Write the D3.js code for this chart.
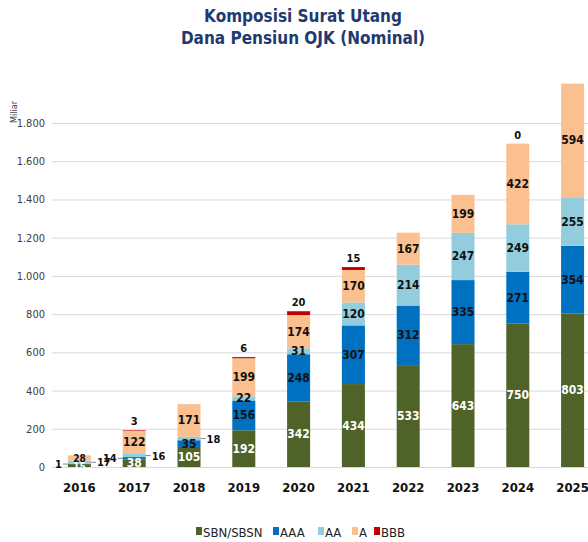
<!DOCTYPE html>
<html>
<head>
<meta charset="utf-8">
<script src="https://cdn.jsdelivr.net/npm/d3@7"></script>
<style>
  body { margin: 0; background: #fff; }
  svg { font-family: "DejaVu Sans Condensed", "DejaVu Sans", sans-serif; }
</style>
</head>
<body>
<div id="chart"></div>
<script>
// data (Miliar)
let years = ['2016', '2017', '2018', '2019', '2020', '2021', '2022', '2023', '2024', '2025'];
let seriesNames = ['SBN/SBSN', 'AAA', 'AA', 'A', 'BBB'];
let sbn = [15, 38, 105, 192, 342, 434, 533, 643, 750, 803];
let aaa = [1, 14, 35, 156, 248, 307, 312, 335, 271, 354];
let aa = [17, 16, 18, 22, 31, 120, 214, 247, 249, 255];
let a = [28, 122, 171, 199, 174, 170, 167, 199, 422, 594];
let bbb = [0, 3, 0, 6, 20, 15, 0, 0, 0, 0];
let yTicks = [0, 200, 400, 600, 800, 1000, 1200, 1400, 1600, 1800];
// which labels are shown, and how
let bbbShown = ['2017', '2019', '2020', '2021', '2024'];
let leaders = [
  { year: '2016', key: 'AAA', side: 'left' },
  { year: '2016', key: 'AA', side: 'right' },
  { year: '2017', key: 'AAA', side: 'left' },
  { year: '2017', key: 'AA', side: 'right' },
  { year: '2018', key: 'AA', side: 'right' }
];

let colors = {
  'SBN/SBSN': '#4f6228',
  'AAA': '#0070c0',
  'AA': '#93cddd',
  'A': '#fac090',
  'BBB': '#c00000'
};

let width = 588;
let height = 542;

let rows = years.map((y, i) => ({
  year: y,
  'SBN/SBSN': sbn[i], 'AAA': aaa[i], 'AA': aa[i], 'A': a[i], 'BBB': bbb[i]
}));

let svg = d3.select('#chart')
  .append('svg')
  .attr('width', width)
  .attr('height', height);

let x = d3.scaleBand()
  .domain(years)
  .range([52, 600])
  .paddingInner(0.58)
  .paddingOuter(0.29);

let y = d3.scaleLinear()
  .domain([0, 1800])
  .range([467, 123]);

// title
svg.append('text')
  .attr('x', 303).attr('y', 22)
  .attr('text-anchor', 'middle')
  .attr('fill', '#1f3a70')
  .style('font-size', '17px').style('font-weight', 'bold')
  .text('Komposisi Surat Utang');
svg.append('text')
  .attr('x', 303).attr('y', 44)
  .attr('text-anchor', 'middle')
  .attr('fill', '#1f3a70')
  .style('font-size', '17px').style('font-weight', 'bold')
  .text('Dana Pensiun OJK (Nominal)');

// grid + y axis
let yAxis = svg.append('g')
  .attr('transform', 'translate(52,0)')
  .call(d3.axisLeft(y)
    .tickValues(yTicks)
    .tickSize(-(width - 52))
    .tickPadding(7)
    .tickFormat(d => d3.format(',')(d).replace(/,/g, '.')));
yAxis.select('.domain').remove();
yAxis.selectAll('.tick line').attr('stroke', '#d9d9d9');
yAxis.selectAll('.tick text')
  .attr('fill', '#404040')
  .style('font-size', '11px')
  .style('font-family', '"DejaVu Sans Condensed", sans-serif');

svg.append('text')
  .attr('transform', 'translate(17,112) rotate(-90)')
  .attr('text-anchor', 'middle')
  .attr('fill', '#404040')
  .style('font-size', '9px')
  .text('Miliar');

// bars
let stack = d3.stack().keys(seriesNames);
let stacked = stack(rows);

let layers = svg.selectAll('.layer')
  .data(stacked)
  .enter()
  .append('g')
  .attr('class', 'layer')
  .attr('fill', d => colors[d.key]);

layers.selectAll('rect')
  .data(d => d)
  .enter()
  .append('rect')
  .attr('x', d => x(d.data.year))
  .attr('width', x.bandwidth())
  .attr('y', d => y(d[1]))
  .attr('height', d => y(d[0]) - y(d[1]));

// x labels
svg.selectAll('.xlab')
  .data(years)
  .enter()
  .append('text')
  .attr('class', 'xlab')
  .attr('x', d => x(d) + x.bandwidth() / 2)
  .attr('y', 492)
  .attr('text-anchor', 'middle')
  .style('font-size', '13px').style('font-weight', 'bold')
  .attr('fill', '#111')
  .text(d => d);

// segment labels
let labelG = svg.append('g')
  .style('font-size', '12px')
  .style('font-weight', 'bold');

stacked.forEach(layer => {
  layer.forEach(d => {
    let yr = d.data.year;
    let v = d.data[layer.key];
    let cx = x(yr) + x.bandwidth() / 2;
    let mid = (y(d[0]) + y(d[1])) / 2;
    let lead = leaders.find(l => l.year === yr && l.key === layer.key);
    if (layer.key === 'BBB') {
      if (bbbShown.indexOf(yr) < 0) return;
      labelG.append('text')
        .attr('x', cx).attr('y', y(d[1]) - 5)
        .attr('text-anchor', 'middle')
        .attr('fill', '#111')
        .style('font-size', '11px')
        .text(v);
      return;
    }
    if (lead) {
      let edge = lead.side === 'left' ? x(yr) : x(yr) + x.bandwidth();
      let dir = lead.side === 'left' ? -1 : 1;
      labelG.append('line')
        .attr('x1', edge).attr('x2', edge + dir * 5)
        .attr('y1', mid).attr('y2', mid)
        .attr('stroke', '#888').attr('stroke-width', 1);
      labelG.append('text')
        .attr('x', edge + dir * 6).attr('y', mid + 4)
        .attr('text-anchor', lead.side === 'left' ? 'end' : 'start')
        .attr('fill', '#111')
        .style('font-size', '11px')
        .text(v);
      return;
    }
    labelG.append('text')
      .attr('x', cx).attr('y', mid + 4)
      .attr('text-anchor', 'middle')
      .attr('fill', layer.key === 'SBN/SBSN' ? '#fff' : '#111')
      .style('font-size', yr === '2016' ? '10px' : null)
      .text(v);
  });
});

// legend
let legendItems = [
  { key: 'SBN/SBSN', x: 196 },
  { key: 'AAA', x: 273 },
  { key: 'AA', x: 318 },
  { key: 'A', x: 352 },
  { key: 'BBB', x: 374 }
];
let legend = svg.selectAll('.legend')
  .data(legendItems)
  .enter()
  .append('g')
  .attr('class', 'legend')
  .attr('transform', d => 'translate(' + d.x + ',537)');

legend.append('rect')
  .attr('x', 0).attr('y', -10)
  .attr('width', 6).attr('height', 8)
  .attr('fill', d => colors[d.key]);

legend.append('text')
  .attr('x', 7).attr('y', 0)
  .attr('fill', '#222')
  .style('font-size', '13px')
  .text(d => d.key);
</script>
</body>
</html>
